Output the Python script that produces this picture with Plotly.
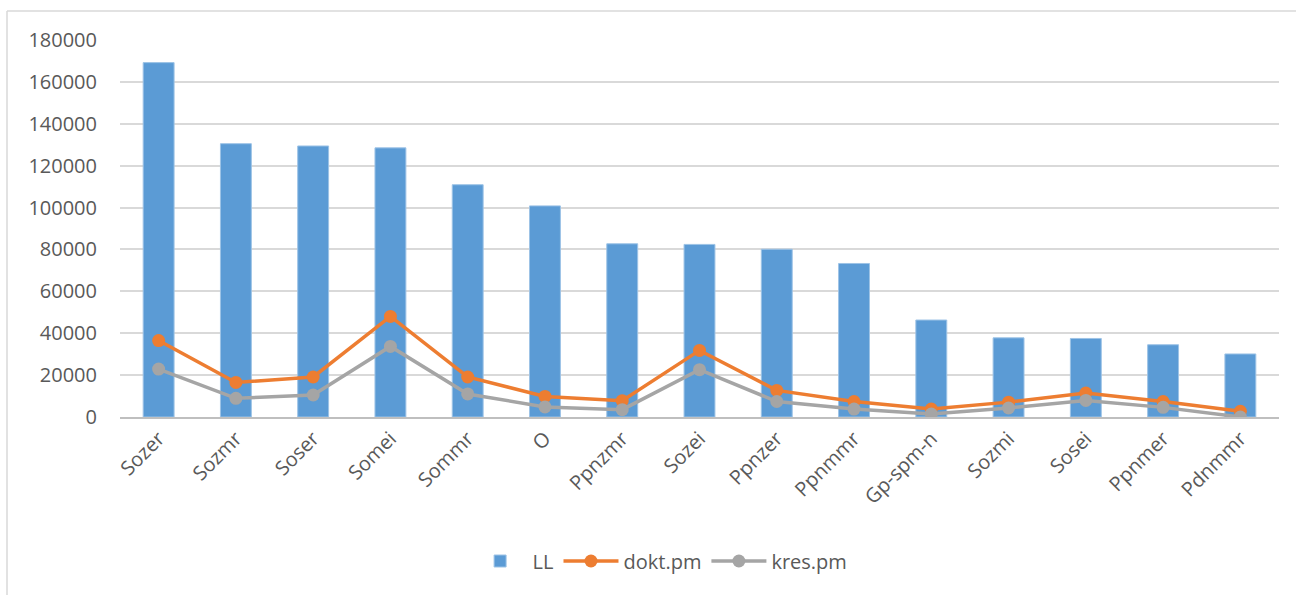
import plotly.graph_objects as go

categories = ["Sozer", "Sozmr", "Soser", "Somei", "Sommr", "O", "Ppnzmr", "Sozei",
              "Ppnzer", "Ppnmmr", "Gp-spm-n", "Sozmi", "Sosei", "Ppnmer", "Pdnmmr"]
ll = [169200, 130500, 129400, 128500, 110900, 100800, 82700, 82400,
      80100, 73300, 46300, 37800, 37500, 34500, 30100]
dokt_pm = [36500, 16500, 19100, 48000, 19100, 9800, 7800, 31800,
           12700, 7400, 3800, 7100, 11400, 7400, 2700]
kres_pm = [22900, 8900, 10500, 33700, 11000, 4800, 3500, 22600,
           7400, 3800, 1400, 4300, 7900, 4600, 0]
y_ticks = [0, 20000, 40000, 60000, 80000, 100000, 120000, 140000, 160000, 180000]

font_family = "Open Sans, Liberation Sans, sans-serif"
text_color = "#595959"

fig = go.Figure()
fig.add_trace(go.Bar(
    x=categories, y=ll, name="LL",
    marker=dict(color="#5b9bd5", line=dict(color="#9dc3e6", width=1)),
))
fig.add_trace(go.Scatter(
    x=categories, y=dokt_pm, name="dokt.pm", mode="lines+markers",
    line=dict(color="#ed7d31", width=3.5),
    marker=dict(color="#ed7d31", size=13),
))
fig.add_trace(go.Scatter(
    x=categories, y=kres_pm, name="kres.pm", mode="lines+markers",
    line=dict(color="#a5a5a5", width=3.5),
    marker=dict(color="#a5a5a5", size=13),
))

fig.update_layout(
    width=1296, height=595,
    margin=dict(l=120, r=17, t=40, b=178),
    paper_bgcolor="white", plot_bgcolor="white",
    bargap=0.6,
    font=dict(family=font_family, color=text_color, size=20),
    showlegend=True,
    legend=dict(orientation="h", x=0.466, xanchor="center", y=-0.382, yanchor="middle",
                font=dict(size=20, color=text_color), itemwidth=55,
                traceorder="normal"),
    xaxis=dict(
        type="category", range=[-0.5, len(categories) - 0.5], autorange=False,
        tickangle=-45, showgrid=False, ticks="",
        showline=True, linecolor="#bfbfbf", linewidth=2,
        tickfont=dict(size=20, color=text_color),
    ),
    yaxis=dict(
        range=[0, 180000], tickvals=y_ticks, ticktext=[str(v) for v in y_ticks],
        showgrid=True, gridcolor="#d9d9d9", gridwidth=1.5,
        zeroline=False, showline=False, ticks="",
        tickfont=dict(size=20, color=text_color), ticklabelstandoff=22,
    ),
    shapes=[
        dict(type="line", xref="paper", yref="paper", x0=-0.0975, x1=1.02, y0=1.0769, y1=1.0769,
             line=dict(color="#d9d9d9", width=1.5)),
        dict(type="line", xref="paper", yref="paper", x0=-0.0975, x1=-0.0975, y0=-0.48, y1=1.0769,
             line=dict(color="#d9d9d9", width=1.5)),
    ],
)

fig.write_html("out.html")
